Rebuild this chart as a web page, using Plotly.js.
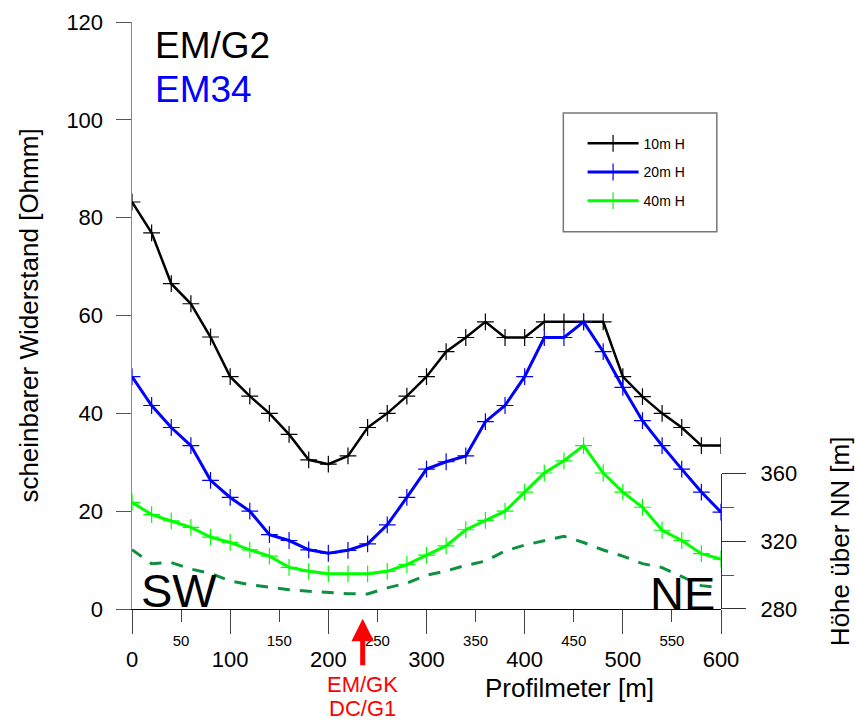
<!DOCTYPE html>
<html>
<head>
<meta charset="utf-8">
<script src="https://cdn.plot.ly/plotly-3.0.1.min.js"></script>
<style>html,body{margin:0;padding:0;background:#fff;}#chart{width:855px;height:722px;}</style>
</head>
<body>
<div id="chart"></div>
<script>
// ---- data ----
const profilMeter = [0,20,40,60,80,100,120,140,160,180,200,220,240,260,280,300,320,340,360,380,400,420,440,460,480,500,520,540,560,580,600];
const rho10m = [83.2,76.9,66.5,62.4,55.6,47.5,43.5,40.0,35.7,30.5,29.6,31.3,37.1,40.0,43.5,47.5,52.6,55.5,58.7,55.5,55.5,58.7,58.7,58.7,58.7,47.5,43.4,40.0,37.1,33.4,33.4];
const rho20m = [47.5,41.6,37.1,33.4,26.3,22.8,20.0,15.2,14.0,12.1,11.4,12.0,13.3,17.2,22.8,28.6,30.1,31.3,38.3,41.6,47.5,55.5,55.5,58.7,52.6,45.3,38.5,33.4,28.6,23.9,19.8];
const rho40m = [21.8,19.3,18.0,16.7,14.7,13.6,12.1,10.8,8.5,7.7,7.2,7.2,7.2,7.7,9.1,11.0,12.9,16.2,18.1,20.0,23.9,27.8,30.3,33.4,27.8,23.9,20.8,16.1,14.0,11.3,10.2];
const hoeheNN = [315.1,306.8,307.5,303.6,301.1,296.6,294.4,293.0,291.4,290.5,289.8,289.0,288.9,292.5,295.3,300.0,302.5,305.8,308.3,314.3,317.8,320.4,323.0,319.3,314.9,311.3,306.8,304.5,299.0,293.8,292.6];
const seriesNames = ["10m H","20m H","40m H"];
const xMajorTicks = [0,100,200,300,400,500,600];
const xMinorTicks = [50,150,250,350,450,550];
const yTicks = [0,20,40,60,80,100,120];
const elevTicks = [280,320,360];
const elevMinorTicks = [300,340];
const markerPos = 235;

const FONT = "Liberation Sans, Arial, sans-serif";

function series(y, name, color, width, group, xa) {
  return {
    x: profilMeter, y: y, name: name, type: 'scatter', mode: 'lines+markers',
    xaxis: xa, yaxis: 'y', legendgroup: group,
    line: {color: color, width: width},
    marker: {symbol: 'cross-thin', size: 12, color: color, line: {color: color, width: 1.2}}
  };
}

const traces = [
  series(rho10m, seriesNames[0], '#000000', 2.5, 'g1', 'x'),
  series(rho20m, seriesNames[1], '#0000ff', 3, 'g2', 'x'),
  series(rho40m, seriesNames[2], '#00ff00', 3, 'g3', 'x2'),
  {
    x: profilMeter, y: hoeheNN, type: 'scatter', mode: 'lines', xaxis: 'x', yaxis: 'y2',
    showlegend: false, line: {color: '#0e9040', width: 3, dash: '12px,10px'}
  }
];

const layout = {
  width: 855, height: 722,
  margin: {l: 132, r: 134, t: 22, b: 113},
  paper_bgcolor: '#ffffff', plot_bgcolor: 'rgba(0,0,0,0)',
  font: {family: FONT, color: '#000000', size: 22},
  showlegend: true,
  legend: {
    x: 0.765, xanchor: 'left', y: 0.7441, yanchor: 'middle',
    bgcolor: 'rgba(0,0,0,0)', borderwidth: 0,
    font: {family: FONT, size: 14, color: '#000'},
    traceorder: 'grouped', tracegroupgap: 7.5, itemwidth: 51
  },
  xaxis: {
    range: [0, 600], tickvals: xMajorTicks, ticktext: xMajorTicks.map(String),
    ticks: 'outside', ticklen: 24, tickwidth: 1, tickcolor: '#444',
    showline: true, linecolor: '#000', linewidth: 1.3,
    showgrid: false, zeroline: false, tickfont: {size: 22, family: FONT},
    ticklabelstandoff: 6
  },
  xaxis2: {
    overlaying: 'x', anchor: 'y', side: 'bottom', range: [0, 600],
    tickvals: xMinorTicks, ticktext: xMinorTicks.map(String),
    ticks: 'outside', ticklen: 12, tickwidth: 1, tickcolor: '#444',
    showline: false, showgrid: false, zeroline: false,
    tickfont: {size: 15, family: FONT}, ticklabelstandoff: 6
  },
  xaxis3: {
    overlaying: 'x', anchor: 'y', side: 'top', range: [0, 600],
    showline: true, linecolor: '#777', linewidth: 1.5, ticks: '',
    showticklabels: false, showgrid: false, zeroline: false
  },
  yaxis: {
    range: [0, 120], tickvals: yTicks, ticktext: yTicks.map(String),
    ticks: 'outside', ticklen: 15, tickwidth: 1, tickcolor: '#555',
    showline: true, linecolor: '#888', linewidth: 1.5,
    showgrid: false, zeroline: false, tickfont: {size: 22, family: FONT},
    ticklabelstandoff: 8,
    title: {text: 'scheinbarer Widerstand [Ohmm]', font: {size: 26, family: FONT}, standoff: 20}
  },
  yaxis2: {
    domain: [0, 0.2305], anchor: 'x', side: 'right', range: [280, 360],
    tickvals: elevTicks, ticktext: elevTicks.map(String),
    ticks: 'outside', ticklen: 24, tickwidth: 1, tickcolor: '#333',
    minor: {tickvals: elevMinorTicks, ticks: 'outside', ticklen: 12, tickcolor: '#555', tickwidth: 1},
    showline: true, linecolor: '#333', linewidth: 1.2,
    showgrid: false, zeroline: false, tickfont: {size: 22, family: FONT},
    ticklabelstandoff: 10,
    title: {text: 'Höhe über NN [m]', font: {size: 26, family: FONT}, standoff: 35}
  },
  shapes: [
    {type: 'rect', xref: 'paper', yref: 'paper', x0: 0.7323, x1: 0.9929, y0: 0.6428, y1: 0.845,
     line: {color: '#777', width: 1.5}, fillcolor: 'rgba(0,0,0,0)'}
  ],
  annotations: [
    {xref: 'paper', yref: 'paper', x: 0.036, y: 0.9596, xanchor: 'left', yanchor: 'middle',
     text: 'EM/G2', showarrow: false, font: {size: 37, color: '#000', family: FONT}},
    {xref: 'paper', yref: 'paper', x: 0.036, y: 0.8842, xanchor: 'left', yanchor: 'middle',
     text: 'EM34', showarrow: false, font: {size: 37, color: '#0000ff', family: FONT}},
    {xref: 'paper', yref: 'paper', x: 0.012, y: 0.032, xanchor: 'left', yanchor: 'middle',
     text: 'SW', showarrow: false, font: {size: 47, color: '#000', family: FONT}},
    {xref: 'paper', yref: 'paper', x: 0.9934, y: 0.026, xanchor: 'right', yanchor: 'middle',
     text: 'NE', showarrow: false, font: {size: 47, color: '#000', family: FONT}},
    {xref: 'paper', yref: 'paper', x: 0.7436, y: -0.1341, xanchor: 'center', yanchor: 'middle',
     text: 'Profilmeter [m]', showarrow: false, font: {size: 26, color: '#000', family: FONT}},
    {xref: 'x', yref: 'paper', x: markerPos, y: -0.0165, ax: 0, ay: 48, axref: 'pixel', ayref: 'pixel',
     text: '', showarrow: true, arrowhead: 2, arrowsize: 0.9, arrowwidth: 5, arrowcolor: '#ff0000', standoff: 0},
    {xref: 'x', yref: 'paper', x: markerPos, y: -0.1285, xanchor: 'center', yanchor: 'middle',
     text: 'EM/GK', showarrow: false, font: {size: 22, color: '#ff0000', family: FONT}},
    {xref: 'x', yref: 'paper', x: markerPos, y: -0.1695, xanchor: 'center', yanchor: 'middle',
     text: 'DC/G1', showarrow: false, font: {size: 22, color: '#ff0000', family: FONT}}
  ]
};

Plotly.newPlot('chart', traces, layout, {displayModeBar: false, staticPlot: true});
</script>
</body>
</html>
